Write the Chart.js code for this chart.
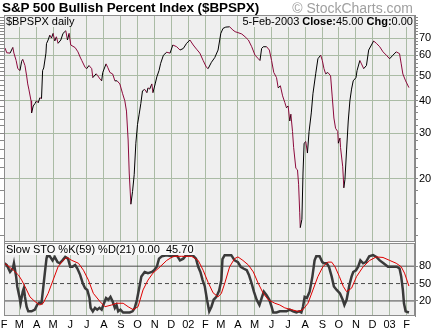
<!DOCTYPE html>
<html lang="en">
<head>
<meta charset="UTF-8" />
<title>S&amp;P 500 Bullish Percent Index</title>
<script src="https://cdn.jsdelivr.net/npm/chart.js"></script>
<style>
  body { margin: 0; background: #fff; font-family: Arial, "Liberation Sans", sans-serif; }
  .wrap { position: relative; width: 432px; height: 332px; overflow: hidden; }
  canvas { position: absolute; left: 0; }
  #bp { top: 0; }
  #sto { top: 243px; }
  .txt { position: absolute; white-space: nowrap; color: #000; }
  .title { left: 2px; top: 0px; font-weight: bold; font-size: 13.5px; letter-spacing: -0.1px; line-height: 16px; }
  .copy { right: 19px; top: 1px; font-size: 14px; line-height: 14px; color: #a0a0a0; }
  .lab { font-size: 11px; line-height: 11px; background: #efefef; padding: 0 1px; }
</style>
</head>
<body>
<div class="wrap">
  <canvas id="bp" width="432" height="243"></canvas>
  <canvas id="sto" width="432" height="89"></canvas>
  <div class="txt title">S&amp;P 500 Bullish Percent Index ($BPSPX)</div>
  <div class="txt copy">&copy; StockCharts.com</div>
  <div class="txt lab" style="left:5px;top:16px;">$BPSPX daily</div>
  <div class="txt lab" style="right:18px;top:16px;">5-Feb-2003 <b>Close:</b>45.00 <b>Chg:</b>0.00</div>
  <div class="txt lab" style="left:5px;top:244px;background:#f8f8f8;">Slow STO %K(59) %D(21) 0.00&nbsp;&nbsp;45.70</div>
</div>
<script>
  // month labels, one per month start from Feb 2001
  const monthLabels = ["F", "M", "A", "M", "J", "J", "A", "S", "O", "N", "D", "02",
                       "F", "M", "A", "M", "J", "J", "A", "S", "O", "N", "D", "03", "F"];

  // $BPSPX readings, x = days since 1 Feb 2001
  const bpDays = [2, 5, 11, 16, 18, 22, 25, 29, 32, 34, 38, 41, 43, 45, 49, 50, 53, 56, 59, 62,
    65, 68, 70, 72, 76, 77, 80, 83, 86, 89, 92, 95, 98, 103, 107, 112, 115, 118, 121, 129,
    134, 138, 141, 147, 150, 154, 159, 161, 167, 170, 174, 177, 179, 185, 188, 192, 197, 201, 205, 210,
    215, 219, 222, 225, 227, 230, 233, 236, 239, 242, 245, 248, 251, 255, 259, 261, 264, 268, 270, 274,
    277, 281, 284, 289, 295, 301, 306, 313, 319, 325, 331, 337, 343, 349, 355, 361, 367, 370, 376, 382,
    388, 393, 397, 402, 409, 415, 419, 424, 431, 437, 443, 449, 455, 461, 464, 467, 470, 476, 481, 485,
    489, 494, 497, 501, 505, 509, 512, 515, 518, 520, 523, 525, 529, 532, 534, 536, 537, 540, 542, 544,
    547, 550, 553, 557, 560, 565, 569, 574, 577, 580, 583, 587, 592, 595, 598, 601, 605, 606, 609, 610,
    614, 616, 618, 621, 624, 627, 630, 633, 638, 640, 645, 648, 652, 657, 661, 666, 670, 675, 681, 687,
    693, 699, 705, 711, 717, 720, 723, 728, 734];
  const bpValues = [64.0, 61.4, 61.2, 64.4, 61.2, 57.3, 53.3, 52.4, 56.9, 57.9, 54.8, 50.0, 46.5, 44.4, 40.0, 35.9, 38.2, 39.0, 40.0, 39.3,
    41.1, 40.8, 52.4, 53.6, 61.2, 66.6, 68.8, 71.9, 70.0, 73.0, 68.2, 70.8, 66.8, 68.8, 73.0, 74.7, 68.8, 73.0, 65.8, 64.3,
    61.9, 59.1, 57.3, 53.9, 53.3, 54.8, 53.3, 49.2, 50.9, 50.0, 48.6, 47.8, 51.5, 55.6, 53.9, 51.5, 50.8, 47.8, 47.8, 46.5,
    42.6, 40.0, 36.5, 28.2, 21.0, 15.9, 17.8, 20.7, 27.4, 32.4, 35.5, 39.0, 43.7, 44.3, 43.0, 44.9, 44.4, 46.5, 43.0, 46.5,
    49.5, 52.4, 55.9, 60.1, 61.7, 61.2, 65.8, 64.8, 62.9, 63.8, 66.8, 68.8, 65.8, 63.4, 61.2, 57.3, 53.9, 53.3, 56.4, 58.8,
    62.9, 73.0, 76.3, 77.2, 77.4, 75.2, 74.1, 73.5, 72.6, 70.8, 68.8, 64.8, 60.1, 58.2, 57.3, 63.8, 64.8, 64.8, 62.9, 57.3,
    51.5, 49.2, 44.9, 45.7, 41.8, 39.4, 37.6, 38.2, 33.4, 35.5, 30.4, 26.4, 21.9, 21.6, 19.0, 14.8, 12.9, 13.9, 21.0, 27.4,
    27.8, 25.1, 30.4, 35.9, 42.6, 50.9, 58.2, 60.1, 57.3, 53.3, 50.9, 51.5, 50.0, 41.4, 34.3, 31.3, 30.4, 27.4, 28.7, 26.4,
    22.2, 18.4, 19.8, 25.8, 33.4, 40.0, 44.4, 47.8, 49.2, 52.4, 57.3, 55.6, 53.3, 54.8, 62.9, 65.8, 68.2, 66.8, 64.8, 61.9,
    60.1, 58.2, 60.1, 61.9, 60.9, 55.6, 50.8, 47.8, 45.0];

  // Slow stochastic %K(59)
  const kDays = [1, 5, 11, 16, 18, 22, 24, 28, 30, 34, 36, 38, 41, 44, 50, 56, 60, 64, 68, 71,
    74, 77, 78, 83, 88, 92, 97, 101, 106, 111, 116, 120, 124, 129, 133, 138, 143, 147, 151, 155,
    157, 161, 165, 169, 173, 177, 180, 185, 189, 193, 197, 201, 204, 207, 211, 216, 222, 228, 233, 237,
    241, 245, 249, 255, 261, 268, 272, 277, 281, 286, 295, 304, 313, 319, 325, 330, 342, 348, 352, 356,
    360, 364, 368, 372, 376, 380, 385, 390, 394, 396, 400, 412, 418, 424, 429, 434, 440, 444, 449, 453,
    458, 463, 467, 471, 476, 481, 485, 488, 494, 500, 506, 512, 518, 524, 530, 535, 539, 542, 545, 549,
    554, 559, 563, 566, 572, 577, 580, 585, 589, 594, 598, 603, 609, 614, 617, 621, 626, 630, 633, 638,
    642, 646, 651, 656, 662, 669, 675, 681, 688, 696, 705, 712, 717, 720, 723, 725, 728, 734];
  const kValues = [85, 82, 70, 76, 85, 62, 45, 27, 16, 36, 42, 27, 10, 2, 2, 5, 13, 17, 16, 42,
    68, 93, 97, 97, 90, 96, 87, 85, 90, 96, 93, 79, 79, 82, 76, 65, 50, 42, 39, 25,
    8, 2, 8, 5, 8, 5, 13, 25, 22, 27, 19, 8, 13, 2, 5, 0, 0, 0, 2, 8,
    22, 42, 62, 70, 68, 70, 73, 79, 93, 97, 99, 97, 99, 90, 93, 99, 99, 93, 79, 70,
    56, 45, 22, 2, 10, 22, 27, 38, 56, 92, 99, 99, 90, 87, 79, 76, 73, 65, 50, 36,
    22, 13, 25, 36, 30, 22, 10, 0, 0, 2, 2, 2, 5, 2, 0, 2, 0, 10, 27, 25,
    36, 62, 90, 97, 97, 87, 85, 85, 79, 62, 45, 39, 33, 22, 13, 22, 47, 62, 70, 73,
    79, 90, 85, 87, 97, 99, 96, 90, 85, 79, 79, 79, 76, 62, 39, 16, 2, 0];

  // Slow stochastic %D(21)
  const dDays = [1, 17, 26, 32, 38, 47, 56, 65, 71, 80, 89, 98, 107, 114, 123, 135, 144, 153, 162, 174,
    183, 195, 204, 216, 225, 234, 243, 252, 261, 270, 283, 295, 307, 322, 340, 352, 361, 370, 379, 388,
    394, 400, 409, 418, 424, 433, 443, 452, 461, 470, 479, 491, 500, 509, 521, 533, 542, 551, 560, 569,
    578, 587, 594, 600, 608, 615, 621, 630, 639, 651, 663, 675, 687, 699, 711, 720, 726, 734];
  const dValues = [85, 73, 65, 56, 45, 27, 19, 13, 16, 33, 56, 79, 90, 95, 90, 85, 73, 56, 33, 19,
    10, 13, 16, 16, 10, 5, 10, 39, 56, 68, 79, 90, 97, 97, 97, 90, 73, 52, 34, 27,
    33, 50, 79, 93, 96, 90, 82, 70, 50, 33, 22, 16, 13, 8, 5, 2, 5, 16, 39, 62,
    79, 87, 87, 79, 62, 45, 36, 42, 62, 79, 90, 96, 95, 90, 85, 79, 68, 45.7];

  const bpLabelTicks = [20, 30, 40, 50, 60, 70];
  const bpMinorTicks = [12, 14, 16, 18, 20, 22, 24, 26, 28, 30, 32, 34, 36, 38, 40, 42, 44, 46, 48, 50,
    52, 54, 56, 58, 60, 62, 64, 66, 68, 70, 72, 74, 76, 78, 80, 82, 84];
  const stoLevels = [80, 50, 20];

  const GRID = "#aabba5";
  const PANEL = "#efefef";
  const UP = "#000000";
  const DOWN = "#8c0a3c";
  const X_MIN = 0, X_MAX = 745;

  Chart.defaults.font.family = 'Arial, "Liberation Sans", sans-serif';
  Chart.defaults.font.size = 11;
  Chart.defaults.color = "#000";

  const start = Date.UTC(2001, 1, 1);
  const monthStarts = monthLabels.map((_, i) => (Date.UTC(2001, 1 + i, 1) - start) / 86400000);
  function monthTicks(scale) {
    scale.ticks = monthStarts.map(v => ({ value: v }));
  }
  function pts(xs, ys) {
    return xs.map((x, i) => ({ x: x, y: ys[i] }));
  }
  // fixed axis size, and no extra room reserved for half-labels at the ends
  function fixSize(w, h) {
    return s => {
      if (w !== null) s.width = w;
      if (h !== null) s.height = h;
      s.paddingTop = 0;
      s.paddingBottom = 0;
      s.paddingLeft = 0;
      s.paddingRight = 0;
    };
  }

  // panel fill and frame
  const panel = {
    id: "panel",
    beforeDraw(chart) {
      const { ctx, chartArea: a } = chart;
      ctx.save();
      ctx.fillStyle = PANEL;
      ctx.fillRect(a.left, a.top, a.right - a.left, a.bottom - a.top);
      ctx.restore();
    },
    afterDraw(chart) {
      const { ctx, chartArea: a } = chart;
      ctx.save();
      ctx.strokeStyle = "#8c8c8c";
      ctx.lineWidth = 1;
      ctx.strokeRect(Math.round(a.left) + 0.5, Math.round(a.top) + 0.5,
        Math.round(a.right - a.left) - 1, Math.round(a.bottom - a.top) - 1);
      ctx.restore();
    }
  };

  const common = {
    responsive: false,
    animation: false,
    devicePixelRatio: 1,
    events: [],
    plugins: { legend: { display: false }, tooltip: { enabled: false } },
    elements: { point: { radius: 0 }, line: { tension: 0 } }
  };

  // upper panel: bullish percent, log scale
  new Chart(document.getElementById("bp"), {
    type: "line",
    data: {
      datasets: [{
        data: pts(bpDays, bpValues),
        xAxisID: "x",
        yAxisID: "y",
        borderWidth: 1,
        borderColor: UP,
        segment: { borderColor: c => (c.p1.parsed.y < c.p0.parsed.y ? DOWN : UP) }
      }]
    },
    options: {
      ...common,
      layout: { padding: { top: 15, left: 0, right: 0, bottom: 0 } },
      scales: {
        x: {
          type: "linear", min: X_MIN, max: X_MAX,
          afterBuildTicks: monthTicks,
          ticks: { display: false },
          grid: { color: GRID, drawTicks: false },
          border: { display: false },
          afterFit: fixSize(null, 1)
        },
        y: {
          type: "logarithmic", position: "right", min: 11.35, max: 86,
          afterBuildTicks: s => { s.ticks = bpMinorTicks.map(v => ({ value: v })); },
          ticks: {
            autoSkip: false, padding: 1,
            callback: v => (bpLabelTicks.includes(v) ? String(v) : "")
          },
          grid: {
            color: c => (c.tick && bpLabelTicks.includes(c.tick.value) ? GRID : "rgba(0,0,0,0)"),
            tickColor: "#888", tickLength: 3
          },
          border: { color: "#888" },
          afterFit: fixSize(17, null)
        },
        yl: {
          type: "logarithmic", position: "left", min: 11.35, max: 86,
          afterBuildTicks: s => { s.ticks = bpMinorTicks.map(v => ({ value: v })); },
          ticks: { display: false },
          grid: { drawOnChartArea: false, tickColor: "#888", tickLength: 4 },
          border: { color: "#888" },
          afterFit: fixSize(4, null)
        }
      }
    },
    plugins: [panel]
  });

  // lower panel: slow stochastic
  new Chart(document.getElementById("sto"), {
    type: "line",
    data: {
      datasets: [
        { data: pts(dDays, dValues), borderColor: "#e00000", borderWidth: 1 },
        { data: pts(kDays, kValues), borderColor: "#3a3a3a", borderWidth: 2.5 },
        ...stoLevels.map(v => ({
          data: [{ x: X_MIN, y: v }, { x: X_MAX, y: v }],
          borderColor: "#4a4a4a",
          borderWidth: 1,
          borderDash: v === 50 ? [4, 3] : []
        }))
      ]
    },
    options: {
      ...common,
      layout: { padding: { top: 0, left: 4, right: 0, bottom: 0 } },
      scales: {
        x: {
          type: "linear", min: X_MIN, max: X_MAX,
          afterBuildTicks: monthTicks,
          ticks: { autoSkip: false, maxRotation: 0, padding: 2, callback: (v, i) => monthLabels[i] },
          grid: { color: GRID, drawTicks: false },
          border: { display: false },
          afterFit: fixSize(null, 16)
        },
        y: {
          type: "linear", position: "right", min: -6, max: 120,
          afterBuildTicks: s => { s.ticks = stoLevels.map(v => ({ value: v })); },
          ticks: { autoSkip: false, padding: 1 },
          grid: { drawOnChartArea: false, tickColor: "#888", tickLength: 3 },
          border: { color: "#888" },
          afterFit: fixSize(17, null)
        }
      }
    },
    plugins: [panel]
  });
</script>
</body>
</html>
